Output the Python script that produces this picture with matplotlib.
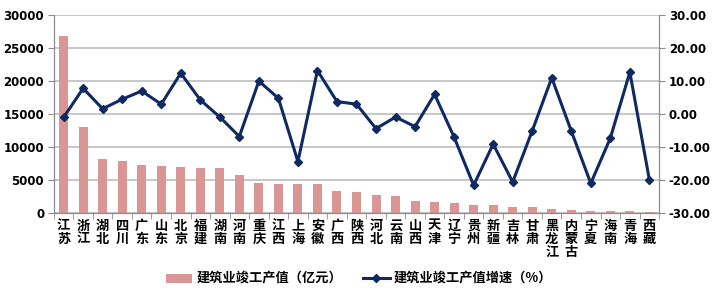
import matplotlib.pyplot as plt
import numpy as np

plt.rcParams['font.family'] = ['Noto Sans CJK SC', 'DejaVu Sans']

provinces = ['江苏', '浙江', '湖北', '四川', '广东', '山东', '北京', '福建', '湖南', '河南',
             '重庆', '江西', '上海', '安徽', '广西', '陕西', '河北', '云南', '山西', '天津',
             '辽宁', '贵州', '新疆', '吉林', '甘肃', '黑龙江', '内蒙古', '宁夏', '海南', '青海', '西藏']
output_value = [26800, 13000, 8250, 7950, 7250, 7200, 6950, 6800, 6750, 5790,
                4580, 4430, 4430, 4400, 3320, 3120, 2720, 2620, 1860, 1710,
                1510, 1210, 1210, 960, 900, 550, 500, 350, 250, 250, 150]
growth = [-1.0, 7.8, 1.6, 4.5, 7.0, 3.0, 12.4, 4.3, -0.9, -6.8,
          10.0, 4.8, -14.4, 13.2, 3.8, 3.0, -4.4, -0.9, -3.8, 6.0,
          -7.0, -21.6, -9.1, -20.6, -5.1, 11.0, -5.1, -21.0, -7.3, 12.7, -19.9]

bar_label = '建筑业竣工产值（亿元）'
line_label = '建筑业竣工产值增速（%）'

fig = plt.figure(figsize=(7.18, 3.03), dpi=100)
ax = fig.add_axes([0.075, 0.297, 0.843, 0.653])
ax2 = ax.twinx()

x = np.arange(len(provinces))
bars = ax.bar(x, output_value, width=0.46, color='#D99694', zorder=2, label=bar_label)
line, = ax2.plot(x, growth, color='#0F2A62', lw=2.2, marker='D', ms=4.5, zorder=3, label=line_label)

ax.set_xlim(-0.5, len(provinces) - 0.5)
ax.set_ylim(0, 30000)
ax.set_yticks(range(0, 30001, 5000))
ax2.set_ylim(-30, 30)
ax2.set_yticks(range(-30, 31, 10))
ax2.set_yticklabels(['%.2f' % v for v in range(-30, 31, 10)])

ax.grid(axis='y', color='#BDBDBD', lw=1.2, zorder=0)
ax.set_axisbelow(True)

ax.set_xticks(x)
ax.set_xticklabels(['\n'.join(p) for p in provinces], fontsize=9.5, fontweight='bold',
                   linespacing=0.95, va='top')
ax.tick_params(axis='x', length=0, pad=4)
ax.set_xticks(np.arange(-0.5, len(provinces), 1), minor=True)
ax.tick_params(axis='x', which='minor', length=4, color='#8C8C8C')

for a in (ax, ax2):
    a.spines['top'].set_visible(False)
    for s in ('left', 'right', 'bottom'):
        a.spines[s].set_color('#8C8C8C')
ax.tick_params(axis='y', length=4, color='#8C8C8C', labelsize=8.5, pad=3)
ax2.tick_params(axis='y', length=4, color='#8C8C8C', labelsize=8.5, pad=3)
for t in ax.get_yticklabels() + ax2.get_yticklabels():
    t.set_fontweight('bold')
    t.set_family('DejaVu Sans')

fig.legend([bars, line], [bar_label, line_label], loc='center', ncol=2,
           bbox_to_anchor=(0.50, 0.08), frameon=False,
           prop={'size': 9.5, 'weight': 'bold'}, handlelength=2.0,
           handletextpad=0.3, columnspacing=1.6)

fig.savefig('out.png', dpi=100)
